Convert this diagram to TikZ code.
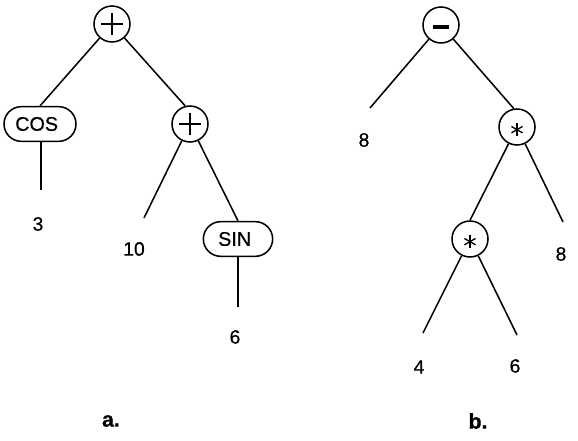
\documentclass[tikz,border=0pt]{standalone}
\usepackage{fontspec}
\setmainfont{Liberation Sans}[FakeBold=0.6]
\begin{document}
\begin{tikzpicture}[x=0.75pt,y=-0.75pt,
  every path/.style={line width=1.15pt},
  op/.style={draw,circle,minimum size=27pt,inner sep=0pt,line width=1.15pt},
  fn/.style={draw,rectangle,rounded corners=13pt,minimum width=54pt,minimum height=26pt,inner sep=0pt,line width=1.15pt,font=\fontsize{14.8}{17}\selectfont},
  num/.style={font=\fontsize{14.5}{17}\selectfont,inner sep=0pt},
  sublabel/.style={font=\fontsize{16}{19}\selectfont\bfseries,inner sep=0pt}]
\useasboundingbox (0,0) rectangle (578,441);
% ---- tree a ----
\node[op] (ra) at (112,24) {};
\draw ([xshift=-8pt]ra.center) -- ([xshift=8pt]ra.center);
\draw ([yshift=-8pt]ra.center) -- ([yshift=8pt]ra.center);
\node[fn] (cos) at (40,124) {COS\kern5pt};
\node[op] (pa) at (190,124) {};
\draw ([xshift=-8pt]pa.center) -- ([xshift=8pt]pa.center);
\draw ([yshift=-8pt]pa.center) -- ([yshift=8pt]pa.center);
\node[fn,minimum width=52pt] (sin) at (238,239) {SIN\kern5pt};
\node[num] (n3) at (38,224) {3};
\node[num] (n10) at (134,249) {10};
\node[num] (n6) at (235,337) {6};
\coordinate (e3) at (41,190);
\coordinate (e10) at (144,218);
\coordinate (e6) at (238,307);
\draw (ra) -- (cos.north);
\draw (ra) -- (pa.105);
\draw (cos.south -| e3) -- (e3);
\draw (pa) -- (e10);
\draw (pa) -- (sin.north);
\draw (sin.south) -- (e6);
\node[sublabel] (la) at (111,421) {a.};
% ---- tree b ----
\node[op] (rb) at (441,25) {};
\draw[line width=2.4pt] ([xshift=-6.3pt,yshift=-1.5pt]rb.center) -- ([xshift=6.3pt,yshift=-1.5pt]rb.center);
\node[op] (sb) at (517,127) {};
\node[op] (sc) at (470,239) {};
\foreach \n in {sb,sc}{
  \foreach \a in {90,30,150}{
    \draw[line width=1pt] ([yshift=-2pt]\n.center) ++(\a:4.8pt) -- ([yshift=-2pt]\n.center) -- ++(\a+180:4.8pt);
  }
}
\node[num] (n8a) at (364,140) {8};
\node[num] (n8b) at (561,254) {8};
\node[num] (n4) at (419,367) {4};
\node[num] (n6b) at (515,366) {6};
\coordinate (e8a) at (370,108);
\coordinate (e8b) at (563,222);
\coordinate (e4) at (423,333);
\coordinate (e6b) at (517,335);
\draw (rb) -- (e8a);
\draw (rb) -- (sb.100);
\draw (sb) -- (sc.north);
\draw (sb) -- (e8b);
\draw (sc) -- (e4);
\draw (sc) -- (e6b);
\node[sublabel] (lb) at (478,421) {b.};
\end{tikzpicture}
\end{document}
